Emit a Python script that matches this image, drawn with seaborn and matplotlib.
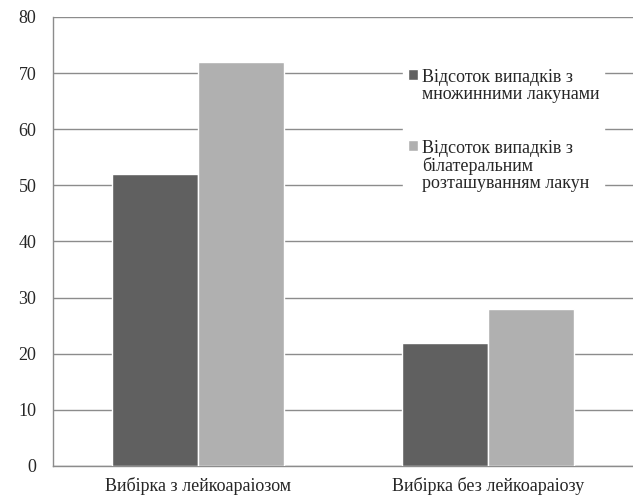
import matplotlib
matplotlib.use("Agg")
import matplotlib.pyplot as plt
import seaborn as sns
import pandas as pd

# data
categories = ["Вибірка з лейкоараіозом", "Вибірка без лейкоараіозу"]
series = ["Відсоток випадків з\nмножинними лакунами",
          "Відсоток випадків з\nбілатеральним\nрозташуванням лакун"]
multiple_lacunes = [52, 22]
bilateral_lacunes = [72, 28]

df = pd.DataFrame({
    "group": categories * 2,
    "series": [series[0]] * 2 + [series[1]] * 2,
    "value": multiple_lacunes + bilateral_lacunes,
})

sns.set_style("white")
plt.rcParams["font.family"] = ["Liberation Serif", "DejaVu Serif"]

fig = plt.figure(figsize=(6.33, 4.99), dpi=100)
ax = fig.add_axes([53 / 633, 1 - 466 / 499, 580 / 633, 449 / 499])

sns.barplot(data=df, x="group", y="value", hue="series",
            palette=["#606060", "#b0b0b0"], width=0.59,
            edgecolor="white", linewidth=1, ax=ax, zorder=3)

ax.set_ylim(0, 80)
ax.set_xlim(-0.5, 1.5)
ax.set_yticks(range(0, 81, 10))
ax.yaxis.grid(True, color="#8c8c8c", linewidth=1, zorder=0)
ax.set_axisbelow(True)
ax.set_xlabel("")
ax.set_ylabel("")
ax.tick_params(axis="both", labelsize=13, length=0)
ax.tick_params(axis="y", pad=12)
ax.tick_params(axis="x", pad=8)

for side in ["top", "right"]:
    ax.spines[side].set_visible(False)
for side in ["left", "bottom"]:
    ax.spines[side].set_color("#8c8c8c")
    ax.spines[side].set_linewidth(1)

leg = ax.legend(loc="upper left", bbox_to_anchor=(0.588, 0.915),
                fontsize=13, handlelength=0.6, handleheight=0.6,
                handletextpad=0.2, labelspacing=2.05,
                frameon=True, facecolor="white", edgecolor="white",
                framealpha=1, fancybox=False, borderpad=0.25)
leg.set_zorder(5)
for t in leg.get_texts():
    t.set_linespacing(1.0)
# put the square next to the first line of each entry
for col in leg._legend_handle_box.get_children():
    for item in col.get_children():
        item.align = "top"

fig.savefig("out.png", dpi=100)
